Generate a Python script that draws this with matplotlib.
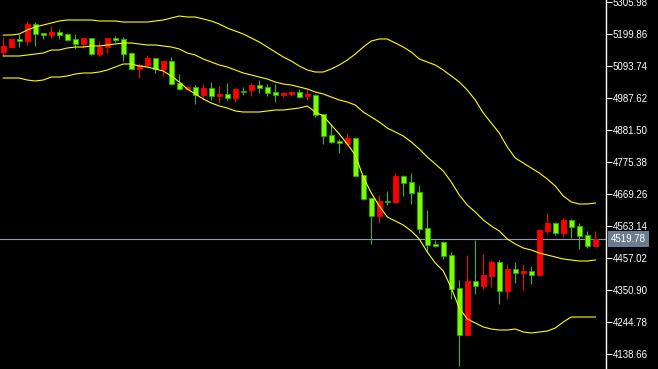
import numpy as np
import matplotlib
matplotlib.use('Agg')
import matplotlib.pyplot as plt
from matplotlib.transforms import blended_transform_factory

# candle data (red = close above open, green = close below open)
opens = [5140, 5157, 5183, 5177, 5233, 5203, 5197, 5207, 5200, 5183,
         5167, 5187, 5134, 5157, 5186, 5183, 5137, 5084, 5097, 5120,
         5084, 5110, 5037, 5017, 5024, 4998, 5021, 4994, 5001, 4988,
         5011, 5014, 5031, 5024, 5008, 4998, 5001, 5008, 4994, 4998,
         4935, 4865, 4845, 4835, 4855, 4732, 4656, 4596, 4646, 4643,
         4729, 4709, 4676, 4557, 4503, 4510, 4467, 4358, 4202, 4381,
         4364, 4397, 4444, 4348, 4420, 4407, 4414, 4401, 4547, 4573,
         4540, 4583, 4563, 4533, 4497]
closes = [5160, 5183, 5177, 5233, 5200, 5197, 5207, 5197, 5180, 5167,
          5187, 5134, 5157, 5187, 5181, 5134, 5084, 5097, 5120, 5084,
          5110, 5034, 5017, 5024, 4998, 5021, 4994, 5001, 4988, 5018,
          5008, 5031, 5021, 5004, 4998, 5004, 5008, 4991, 5001, 4931,
          4862, 4842, 4838, 4855, 4729, 4653, 4596, 4646, 4643, 4729,
          4706, 4673, 4553, 4500, 4497, 4464, 4354, 4202, 4381, 4364,
          4401, 4444, 4348, 4420, 4407, 4414, 4401, 4550, 4573, 4540,
          4583, 4560, 4530, 4497, 4519.78]
highs = [5190, 5184, 5200, 5243, 5240, 5203, 5226, 5216, 5203, 5200,
         5187, 5187, 5177, 5187, 5193, 5190, 5140, 5104, 5130, 5120,
         5110, 5124, 5067, 5027, 5031, 5034, 5041, 5027, 5037, 5021,
         5024, 5037, 5047, 5034, 5034, 5008, 5011, 5018, 5018, 5001,
         4935, 4901, 4852, 4872, 4858, 4732, 4656, 4666, 4679, 4739,
         4732, 4739, 4699, 4616, 4517, 4513, 4477, 4384, 4467, 4517,
         4470, 4450, 4450, 4437, 4444, 4437, 4430, 4553, 4606, 4576,
         4590, 4586, 4573, 4547, 4547]
lows = [5127, 5153, 5157, 5163, 5160, 5183, 5187, 5183, 5177, 5150,
        5153, 5130, 5127, 5137, 5173, 5110, 5080, 5054, 5090, 5070,
        5061, 5031, 5014, 5014, 4968, 4984, 4981, 4971, 4981, 4974,
        4998, 4994, 5004, 4994, 4974, 4991, 4994, 4988, 4981, 4925,
        4835, 4838, 4805, 4832, 4729, 4649, 4503, 4573, 4633, 4639,
        4663, 4636, 4540, 4477, 4494, 4454, 4321, 4099, 4202, 4338,
        4354, 4361, 4304, 4321, 4374, 4351, 4371, 4397, 4537, 4533,
        4527, 4523, 4487, 4490, 4497]

# bollinger bands
upper_band = [5196.5, 5196.5, 5199.9, 5213.1, 5223.1, 5229.7, 5236.3, 5243.0, 5246.3, 5246.3,
              5246.3, 5246.3, 5243.0, 5243.0, 5243.0, 5239.6, 5239.6, 5239.6, 5239.6, 5243.0,
              5246.3, 5252.9, 5259.5, 5256.2, 5256.2, 5249.6, 5243.0, 5233.0, 5219.7, 5209.8,
              5199.9, 5186.6, 5173.3, 5156.7, 5140.2, 5123.6, 5110.3, 5093.7, 5080.5, 5073.8,
              5073.8, 5083.8, 5097.0, 5113.6, 5133.5, 5156.7, 5176.6, 5183.3, 5183.3, 5170.0,
              5156.7, 5140.2, 5116.9, 5107.0, 5097.0, 5080.5, 5060.6, 5040.7, 5014.1, 4981.0,
              4937.9, 4904.7, 4871.5, 4825.1, 4788.6, 4772.1, 4755.5, 4738.9, 4719.0, 4695.8,
              4662.6, 4642.7, 4636.1, 4636.1, 4639.4]
middle_band = [5126.9, 5126.9, 5126.9, 5130.2, 5133.5, 5136.8, 5146.8, 5146.8, 5153.4, 5156.7,
               5156.7, 5160.1, 5160.1, 5163.4, 5166.7, 5170.0, 5170.0, 5166.7, 5163.4, 5163.4,
               5160.1, 5156.7, 5150.1, 5136.8, 5130.2, 5116.9, 5107.0, 5097.0, 5090.4, 5080.5,
               5070.5, 5063.9, 5057.2, 5050.6, 5040.7, 5034.0, 5030.7, 5024.1, 5017.5, 5007.5,
               5000.9, 4990.9, 4981.0, 4974.3, 4964.4, 4941.2, 4924.6, 4908.0, 4888.1, 4874.8,
               4861.6, 4841.7, 4818.5, 4791.9, 4768.7, 4745.5, 4709.0, 4665.9, 4632.8, 4609.5,
               4583.0, 4563.1, 4546.5, 4520.0, 4503.4, 4490.2, 4483.5, 4473.6, 4466.9, 4460.3,
               4453.7, 4450.4, 4447.0, 4447.0, 4450.4]
lower_band = [5053.9, 5053.9, 5053.9, 5047.3, 5044.0, 5047.3, 5057.2, 5057.2, 5060.6, 5067.2,
              5070.5, 5070.5, 5073.8, 5080.5, 5090.4, 5100.4, 5100.4, 5093.7, 5090.4, 5083.8,
              5077.1, 5060.6, 5040.7, 5017.5, 5000.9, 4984.3, 4971.0, 4961.1, 4954.4, 4944.5,
              4941.2, 4941.2, 4941.2, 4944.5, 4947.8, 4947.8, 4951.1, 4954.4, 4961.1, 4941.2,
              4927.9, 4898.1, 4868.2, 4835.1, 4798.6, 4725.6, 4672.6, 4629.4, 4593.0, 4579.7,
              4566.4, 4546.5, 4520.0, 4476.9, 4440.4, 4413.9, 4357.5, 4291.2, 4254.7, 4241.4,
              4228.2, 4221.5, 4218.2, 4218.2, 4221.5, 4211.6, 4208.3, 4211.6, 4214.9, 4224.9,
              4244.8, 4261.3, 4261.3, 4261.3, 4261.3]

price_ticks = [5305.98, 5199.86, 5093.74, 4987.62, 4881.50, 4775.38,
               4669.26, 4563.14, 4457.02, 4350.90, 4244.78, 4138.66]
last_price = 4519.78

o = np.array(opens)
c = np.array(closes)
h = np.array(highs)
l = np.array(lows)
x = np.arange(len(o))
rising = c > o

fig = plt.figure(figsize=(6.58, 3.69), dpi=100, facecolor='black')
ax = fig.add_axes([0, 0, 606 / 658, 1])
ax.set_facecolor('black')

wick_col = np.where(rising, '#ff0000', '#22cc00')
body_col = np.where(rising, '#ff0000', '#7cfc00')
edge_col = np.where(rising, '#ff0000', '#1fb000')

ax.vlines(x, l, h, colors=wick_col, lw=0.75, zorder=2)
ax.bar(x, np.abs(c - o), bottom=np.minimum(o, c), width=0.58,
       color=body_col, edgecolor=edge_col, linewidth=0.6, zorder=3)

for band in (upper_band, middle_band, lower_band):
    ax.plot(x, band, color='#ffff00', lw=0.8, zorder=4)

ax.axhline(last_price, color='#8a9ab0', lw=0.8, zorder=1)

ax.set_xlim(-0.41, 75.34)
ax.set_ylim(4088.9, 5312.6)

ax.yaxis.tick_right()
ax.set_yticks(price_ticks)
ax.set_yticklabels(['%.2f' % t for t in price_ticks], family='Liberation Sans')
ax.tick_params(axis='y', colors='white', length=4, width=0.8,
               labelsize=7, pad=1, direction='out')
ax.tick_params(axis='x', bottom=False, labelbottom=False)
for side in ('left', 'top', 'bottom'):
    ax.spines[side].set_visible(False)
ax.spines['right'].set_color('white')
ax.spines['right'].set_linewidth(1)

trans = blended_transform_factory(ax.transAxes, ax.transData)
ax.text(1.008, last_price, '%.2f' % last_price, transform=trans,
        family='Liberation Sans', fontsize=7,
        color='white', ha='left', va='center', clip_on=False, zorder=10,
        bbox=dict(facecolor='#6b7c8f', edgecolor='none', pad=2))

fig.savefig('out.png', dpi=100, facecolor='black')
